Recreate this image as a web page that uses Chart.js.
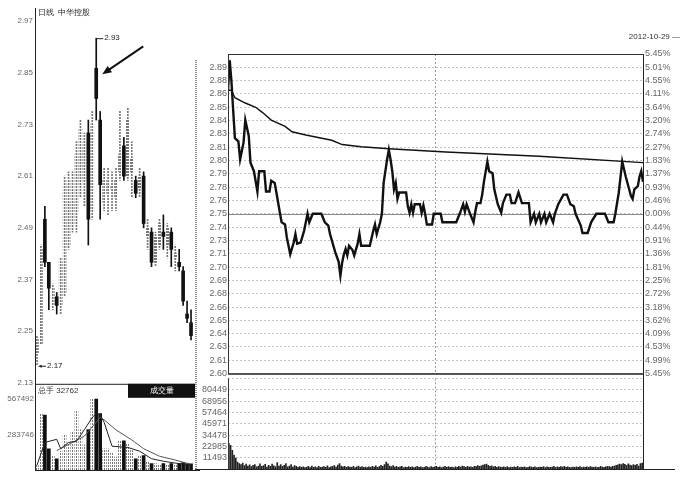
<!DOCTYPE html>
<html>
<head>
<meta charset="utf-8">
<script src="https://cdn.jsdelivr.net/npm/chart.js@4.4.0/dist/chart.umd.min.js"></script>
<style>
  html, body { margin: 0; padding: 0; background: #fff; }
  #wrap { position: relative; width: 682px; height: 480px; overflow: hidden; background: #fff; }
  #wrap canvas { position: absolute; }
</style>
</head>
<body>
<div id="wrap">
  <canvas id="dayPrice" width="200" height="392" style="left:0;top:0"></canvas>
  <canvas id="dayVol" width="200" height="100" style="left:0;top:378px"></canvas>
  <canvas id="minPrice" width="487" height="356" style="left:195px;top:25px"></canvas>
  <canvas id="minVol" width="487" height="108" style="left:195px;top:372px"></canvas>
</div>
<script>
/**
 * Daily K-line (left) + intraday line for 2012-10-29 (right)
 */

// ---- daily candles (left panel) ----
const dayOpen  = [2.20, 2.22, 2.51, 2.41, 2.31, 2.33, 2.31, 2.34, 2.45, 2.50, 2.53, 2.59, 2.60, 2.71, 2.53, 2.86, 2.74, 2.55, 2.57, 2.58,
                  2.56, 2.62, 2.68, 2.61, 2.62, 2.60, 2.58, 2.61, 2.47, 2.48, 2.41, 2.45, 2.48, 2.45, 2.48, 2.42, 2.41, 2.39, 2.29, 2.27];
const dayHigh  = [2.24, 2.45, 2.54, 2.41, 2.36, 2.34, 2.42, 2.61, 2.62, 2.62, 2.69, 2.74, 2.71, 2.74, 2.76, 2.93, 2.76, 2.63, 2.63, 2.62,
                  2.63, 2.76, 2.70, 2.77, 2.69, 2.61, 2.63, 2.62, 2.51, 2.49, 2.48, 2.51, 2.52, 2.50, 2.49, 2.45, 2.44, 2.40, 2.32, 2.30];
const dayLow   = [2.17, 2.22, 2.40, 2.30, 2.30, 2.29, 2.29, 2.33, 2.44, 2.48, 2.48, 2.56, 2.54, 2.45, 2.51, 2.74, 2.51, 2.53, 2.52, 2.53,
                  2.53, 2.60, 2.60, 2.60, 2.56, 2.56, 2.56, 2.49, 2.44, 2.40, 2.40, 2.44, 2.44, 2.42, 2.40, 2.39, 2.39, 2.31, 2.27, 2.23];
const dayClose = [2.23, 2.44, 2.41, 2.35, 2.35, 2.31, 2.41, 2.59, 2.60, 2.55, 2.66, 2.72, 2.68, 2.51, 2.73, 2.79, 2.59, 2.60, 2.60, 2.585,
                  2.60, 2.66, 2.61, 2.74, 2.65, 2.57, 2.61, 2.50, 2.49, 2.41, 2.47, 2.50, 2.47, 2.49, 2.44, 2.43, 2.40, 2.32, 2.28, 2.24];
const dayVolume = [38000, 451000, 438000, 168000, 116000, 90000, 150000, 284000, 219000, 309000,
                   477000, 322000, 200000, 322000, 567000, 567000, 451000, 168000, 168000, 142000,
                   103000, 232000, 232000, 206000, 155000, 90000, 116000, 116000, 65000, 52000,
                   52000, 38000, 52000, 45000, 52000, 45000, 52000, 60000, 52000, 50000];
const dayVolMa5 = [38000, null, 220000, null, null, 245000, 170000, null, 220000, null,
                   230000, null, 322000, null, 420000, 450000, 440000, 380000, null, 190000,
                   null, 185000, null, 180000, null, null, 150000, null, null, 90000,
                   null, null, 70000, null, null, 55000, null, null, null, 40000];
const dayVolMa10 = [null, null, null, null, null, 155000, null, null, null, 220000,
                    null, null, 270000, null, null, null, 420000, 400000, null, null,
                    320000, null, null, null, 240000, null, null, 170000, null, null,
                    null, 110000, null, null, null, 80000, null, null, null, 45000];
const dayPriceTicks = [2.13, 2.25, 2.37, 2.49, 2.61, 2.73, 2.85, 2.97];
const dayVolTicks = [283746, 567492];

// ---- intraday (right panel), minutes 0..240 ----
const tickPrices = [2.6, 2.6125, 2.625, 2.6375, 2.65, 2.6625, 2.675, 2.6875, 2.7, 2.7125, 2.725, 2.7375, 2.75,
                    2.7625, 2.775, 2.7875, 2.8, 2.8125, 2.825, 2.8375, 2.85, 2.8625, 2.875, 2.8875, 2.9];
const tickPriceLabels = ['2.60', '2.61', '2.63', '2.64', '2.65', '2.66', '2.68', '2.69', '2.70', '2.71', '2.73', '2.74', '2.75',
                         '2.76', '2.78', '2.79', '2.80', '2.81', '2.83', '2.84', '2.85', '2.86', '2.88', '2.89', ''];
const tickPctLabels = ['5.45%', '4.99%', '4.53%', '4.09%', '3.62%', '3.18%', '2.72%', '2.25%', '1.81%', '1.36%', '0.91%', '0.44%', '0.00%',
                       '0.46%', '0.93%', '1.37%', '1.83%', '2.27%', '2.74%', '3.20%', '3.64%', '4.11%', '4.55%', '5.01%', '5.45%'];

const minuteTimes = [0, 1, 2, 3, 4, 6, 7, 9, 10, 12, 13, 15, 17, 18, 21, 22, 24, 25, 27, 28,
                     30, 31, 33, 34, 36, 38, 39, 40, 42, 44, 45, 46, 47, 49, 51, 54, 56, 58, 59, 62,
                     64, 65, 66, 67, 68, 69, 70, 72, 73, 75, 76, 77, 82, 84, 85, 86, 88, 89, 90, 92,
                     93, 94, 95, 96, 97, 98, 99, 103, 104, 105, 106, 107, 108, 111, 112, 113, 114, 115, 118, 119,
                     123, 124, 126, 132, 134, 136, 137, 138, 140, 142, 143, 144, 146, 147, 148, 150, 151, 153, 154, 156,
                     158, 159, 161, 163, 164, 166, 168, 170, 174, 175, 177, 178, 180, 181, 183, 184, 186, 188, 189, 191,
                     194, 196, 198, 200, 201, 204, 205, 208, 210, 213, 218, 220, 223, 224, 226, 228, 230, 232, 233, 234,
                     235, 237, 238, 239, 240];
const minutePrices = [2.866, 2.894, 2.874, 2.847, 2.821, 2.818, 2.801, 2.817, 2.838, 2.823, 2.798, 2.790, 2.771, 2.790, 2.790, 2.771, 2.771, 2.781, 2.779, 2.770,
                      2.751, 2.742, 2.740, 2.728, 2.712, 2.723, 2.731, 2.722, 2.723, 2.734, 2.742, 2.750, 2.742, 2.750, 2.750, 2.750, 2.742, 2.739, 2.731, 2.714,
                      2.705, 2.692, 2.704, 2.712, 2.717, 2.711, 2.720, 2.716, 2.711, 2.722, 2.731, 2.720, 2.720, 2.734, 2.740, 2.731, 2.742, 2.750, 2.779, 2.801,
                      2.810, 2.801, 2.790, 2.773, 2.779, 2.764, 2.770, 2.770, 2.757, 2.751, 2.759, 2.751, 2.759, 2.759, 2.751, 2.758, 2.750, 2.740, 2.740, 2.750,
                      2.750, 2.742, 2.742, 2.742, 2.750, 2.759, 2.752, 2.759, 2.750, 2.742, 2.752, 2.760, 2.760, 2.768, 2.780, 2.799, 2.790, 2.788, 2.773, 2.759,
                      2.751, 2.760, 2.768, 2.768, 2.760, 2.760, 2.770, 2.760, 2.760, 2.742, 2.750, 2.742, 2.750, 2.742, 2.750, 2.742, 2.750, 2.742, 2.750, 2.759,
                      2.768, 2.768, 2.759, 2.757, 2.750, 2.739, 2.732, 2.732, 2.742, 2.750, 2.750, 2.742, 2.742, 2.750, 2.770, 2.799, 2.785, 2.773, 2.767, 2.764,
                      2.773, 2.776, 2.785, 2.790, 2.780];
const avgTimes  = [0, 2, 4, 10, 16, 20, 25, 33, 37, 45, 60, 66, 77, 93, 126, 180, 240];
const avgPrices = [2.866, 2.866, 2.859, 2.854, 2.850, 2.845, 2.838, 2.832, 2.827, 2.824, 2.819, 2.815, 2.813, 2.811, 2.808, 2.804, 2.798];

const minuteVolume = [
  26000, 24000, 19000, 14000, 11000, 7000, 5500, 4500, 6000, 3500,
  5000, 3000, 4200, 2500, 3800, 4600, 2200, 3000, 5200, 2600,
  3400, 4800, 2000, 3600, 2800, 5000, 3200, 2400, 6500, 3000,
  4400, 2600, 3800, 5400, 2200, 3000, 4600, 2000, 3400, 2800,
  1800, 2400, 1600, 2200, 1400, 2000, 2600, 1500, 3000, 1800,
  2200, 1400, 2800, 1600, 2000, 2400, 1800, 3200, 1500, 2200,
  2600, 3400, 2000, 4000, 5500, 3000, 2200, 2800, 1800, 2400,
  2000, 1600, 2600, 1400, 2200, 3000, 1800, 2400, 1600, 2000,
  1400, 2200, 1800, 2600, 2000, 3200, 1600, 2400, 3600, 2800,
  4600, 7000, 5200, 3000, 2400, 3400, 2000, 2800, 1600, 2200,
  2600, 1400, 2000, 1800, 2400, 1600, 2200, 1400, 2000, 2600,
  1600, 2200, 1400, 1800, 2600, 2000, 1400, 2400, 1800, 2200,
  2800, 1600, 2200, 1400, 2000, 2600, 1800, 2400, 1600, 2000,
  1400, 2200, 1800, 2600, 2000, 3000, 2400, 1800, 2600, 2000,
  2200, 1600, 2800, 2400, 3400, 2600, 3200, 4000, 4600, 5000,
  3600, 2800, 3200, 2200, 2600, 1800, 2400, 2000, 1600, 2200,
  1800, 2400, 1400, 2000, 1600, 2200, 1800, 2600, 1400, 2000,
  1600, 2200, 1400, 1800, 2400, 2000, 1600, 2200, 1400, 1800,
  2000, 1600, 2400, 1400, 2200, 1800, 1600, 2000, 2600, 1400,
  2200, 1800, 2400, 2000, 2800, 1600, 2200, 1800, 1400, 2000,
  1600, 2200, 1800, 2400, 1400, 2000, 1600, 2200, 1800, 2400,
  2000, 1600, 2200, 1400, 1800, 2600, 2000, 1600, 2200, 2800,
  2400, 2000, 2600, 3000, 3600, 4200, 5000, 4400, 5600, 4800,
  3800, 5200, 4000, 3400, 4600, 3600, 4800, 3000, 5400, 6000
];
const volTicks = [11493, 22985, 34478, 45971, 57464, 68956, 80449, 91941];

const tradeDate = '2012-10-29';
const stockTitle = '日线  中华控股';
const lastVolText = '总手 32762';

// ---------------------------------------------------------------------------

Chart.defaults.font.family = '"Liberation Sans", Arial, sans-serif';
Chart.defaults.font.size = 8;
Chart.defaults.color = '#555';
Chart.defaults.animation = false;
Chart.defaults.plugins.legend.display = false;
Chart.defaults.plugins.tooltip.enabled = false;

const LABEL_FONT = '8px "Liberation Sans", Arial, sans-serif';
const RIGHT_TICK_FONT = { size: 9 };

// dotted gray texture for rising candles
function makePattern(w, h, dots) {
  const pc = document.createElement('canvas');
  pc.width = w;
  pc.height = h;
  const pctx = pc.getContext('2d');
  pctx.fillStyle = '#777';
  dots.forEach(([x, y]) => pctx.fillRect(x, y, 1, 1));
  return pctx.createPattern(pc, 'repeat');
}
const bodyPattern = makePattern(2, 3, [[0, 0], [0, 1]]);
const wickPattern = makePattern(1, 3, [[0, 0], [0, 1]]);

function line(ctx, x1, y1, x2, y2, color, width, dash) {
  ctx.save();
  ctx.strokeStyle = color;
  ctx.lineWidth = width || 1;
  ctx.setLineDash(dash || []);
  ctx.beginPath();
  ctx.moveTo(x1, y1);
  ctx.lineTo(x2, y2);
  ctx.stroke();
  ctx.restore();
}

function arrowHead(ctx, x1, y1, x2, y2, size, color) {
  const ang = Math.atan2(y2 - y1, x2 - x1);
  ctx.save();
  ctx.fillStyle = color;
  ctx.beginPath();
  ctx.moveTo(x2, y2);
  ctx.lineTo(x2 - size * Math.cos(ang - 0.4), y2 - size * Math.sin(ang - 0.4));
  ctx.lineTo(x2 - size * Math.cos(ang + 0.4), y2 - size * Math.sin(ang + 0.4));
  ctx.closePath();
  ctx.fill();
  ctx.restore();
}

function text(ctx, str, x, y, color, align) {
  ctx.save();
  ctx.font = LABEL_FONT;
  ctx.fillStyle = color || '#222';
  ctx.textAlign = align || 'left';
  ctx.textBaseline = 'middle';
  ctx.fillText(str, x, y);
  ctx.restore();
}

const isUp = dayClose.map((c, i) => c >= dayOpen[i]);
const dayLabels = dayOpen.map((_, i) => String(i + 1));

/**
 * Left: daily candles
 */
const dayPricePlugin = {
  id: 'dayPriceFrame',
  afterDraw(chart) {
    const { ctx, chartArea: a, scales: { x, y } } = chart;
    line(ctx, a.left + 0.5, 8, a.left + 0.5, chart.height, '#222', 1);
    line(ctx, a.right + 3, 60, a.right + 3, chart.height, '#888', 2, [1, 1]);
    text(ctx, stockTitle, a.left + 3, 13, '#222');

    // highest high
    const hiIdx = dayHigh.indexOf(Math.max(...dayHigh));
    const hx = x.getPixelForValue(hiIdx);
    const hy = y.getPixelForValue(dayHigh[hiIdx]);
    line(ctx, hx, hy + 0.5, hx + 7, hy + 0.5, '#222', 1);
    text(ctx, dayHigh[hiIdx].toFixed(2), hx + 8, hy, '#222');

    // lowest low
    const loIdx = dayLow.indexOf(Math.min(...dayLow));
    const lx = x.getPixelForValue(loIdx);
    const ly = y.getPixelForValue(dayLow[loIdx]);
    line(ctx, lx + 9, ly + 0.5, lx + 3, ly + 0.5, '#222', 1);
    arrowHead(ctx, lx + 9, ly + 0.5, lx + 1, ly + 0.5, 4, '#222');
    text(ctx, dayLow[loIdx].toFixed(2), lx + 10, ly, '#222');

    // pointer arrow at the high candle body
    const by = y.getPixelForValue(dayOpen[hiIdx]);
    const tipX = hx + 6, tipY = by + 6;
    line(ctx, tipX + 41, tipY - 28, tipX + 5, tipY - 3.5, '#111', 2);
    arrowHead(ctx, tipX + 41, tipY - 28, tipX, tipY, 10, '#111');
  },
};

new Chart(document.getElementById('dayPrice'), {
  type: 'bar',
  data: {
    labels: dayLabels,
    datasets: [
      {
        label: 'body',
        data: dayOpen.map((o, i) => [Math.min(o, dayClose[i]), Math.max(o, dayClose[i])]),
        backgroundColor: isUp.map((u) => (u ? bodyPattern : '#111')),
        barThickness: 3,
        minBarLength: 1,
        grouped: false,
      },
      {
        label: 'wick',
        data: dayLow.map((l, i) => [l, dayHigh[i]]),
        backgroundColor: isUp.map((u) => (u ? wickPattern : '#111')),
        barThickness: 1,
        grouped: false,
      },
    ],
  },
  options: {
    responsive: false,
    layout: { padding: { top: 8, right: 7, bottom: 9, left: 0 } },
    scales: {
      x: { display: false, offset: true },
      y: {
        min: 2.13,
        max: 3.0,
        afterFit: (s) => { s.width = 35; },
        afterBuildTicks: (s) => { s.ticks = dayPriceTicks.map((v) => ({ value: v })); },
        ticks: { autoSkip: false, padding: 2, color: '#666', callback: (v) => v.toFixed(2) },
        grid: { display: false, drawTicks: false },
        border: { display: false },
      },
    },
  },
  plugins: [dayPricePlugin],
});

const dayVolPlugin = {
  id: 'dayVolFrame',
  afterDraw(chart) {
    const { ctx, chartArea: a } = chart;
    line(ctx, a.left + 0.5, 0, a.left + 0.5, a.bottom, '#222', 1);
    line(ctx, a.left, a.top + 0.5, a.right + 3, a.top + 0.5, '#222', 1);
    line(ctx, a.left, a.bottom + 0.5, chart.width, a.bottom + 0.5, '#222', 1);
    line(ctx, a.right + 3, 0, a.right + 3, a.bottom, '#888', 2, [1, 1]);
    text(ctx, lastVolText, a.left + 3, a.top + 7, '#333');
    ctx.save();
    ctx.fillStyle = '#111';
    ctx.fillRect(128, a.top, a.right + 2 - 128, 14);
    ctx.restore();
    text(ctx, '成交量', (128 + a.right + 2) / 2, a.top + 7, '#fff', 'center');
  },
};

new Chart(document.getElementById('dayVol'), {
  type: 'bar',
  data: {
    labels: dayLabels,
    datasets: [
      {
        type: 'line',
        data: dayVolMa5,
        borderColor: '#222',
        borderWidth: 1,
        pointRadius: 0,
        spanGaps: true,
      },
      {
        type: 'line',
        data: dayVolMa10,
        borderColor: '#555',
        borderWidth: 1,
        pointRadius: 0,
        spanGaps: true,
      },
      {
        data: dayVolume,
        backgroundColor: isUp.map((u) => (u ? bodyPattern : '#111')),
        barThickness: 3,
      },
    ],
  },
  options: {
    responsive: false,
    layout: { padding: { top: 5, right: 7, bottom: 8, left: 0 } },
    scales: {
      x: { display: false, offset: true },
      y: {
        min: 0,
        max: 688000,
        afterFit: (s) => { s.width = 35; },
        afterBuildTicks: (s) => { s.ticks = dayVolTicks.map((v) => ({ value: v })); },
        ticks: { autoSkip: false, padding: 1, color: '#666', callback: (v) => String(v) },
        grid: { display: false, drawTicks: false },
        border: { display: false },
      },
    },
  },
  plugins: [dayVolPlugin],
});

/**
 * Right: intraday price and volume
 */
function labelFor(list, v) {
  const i = tickPrices.findIndex((t) => Math.abs(t - v) < 1e-6);
  return i < 0 ? '' : list[i];
}

const midGrid = {
  display: true,
  drawTicks: false,
  offset: false,
  color: (c) => (c.tick && c.tick.value === 120 ? '#999' : 'rgba(0,0,0,0)'),
};

const minPricePlugin = {
  id: 'minPriceFrame',
  beforeDatasetsDraw(chart) {
    const { ctx, chartArea: a, scales: { y } } = chart;
    const by = Math.round(y.getPixelForValue(2.75)) + 0.5;
    line(ctx, a.left, by, a.right, by, '#888', 1);
  },
  afterDraw(chart) {
    const { ctx, chartArea: a } = chart;
    line(ctx, a.left, a.top + 0.5, a.right, a.top + 0.5, '#333', 1);
    line(ctx, a.left + 0.5, a.top, a.left + 0.5, a.bottom, '#333', 1);
    line(ctx, a.right + 0.5, a.top, a.right + 0.5, chart.height, '#222', 1);
    line(ctx, a.left, a.bottom + 0.5, a.right, a.bottom + 0.5, '#222', 1.5);
    text(ctx, tradeDate + ' —', chart.width - 2, 12, '#333', 'right');
  },
};

new Chart(document.getElementById('minPrice'), {
  type: 'line',
  data: {
    datasets: [
      {
        label: 'price',
        data: minuteTimes.map((t, i) => ({ x: t, y: minutePrices[i] })),
        borderColor: '#111',
        borderWidth: 2.4,
        pointRadius: 0,
        tension: 0,
      },
      {
        label: 'average',
        data: avgTimes.map((t, i) => ({ x: t, y: avgPrices[i] })),
        borderColor: '#111',
        borderWidth: 1.4,
        pointRadius: 0,
        tension: 0,
      },
    ],
  },
  options: {
    responsive: false,
    layout: { padding: { top: 29, right: 0, bottom: 5, left: 0 } },
    scales: {
      x: {
        type: 'linear',
        min: 0,
        max: 240,
        offset: false,
        afterBuildTicks: (s) => { s.ticks = [{ value: 0 }, { value: 120 }, { value: 240 }]; },
        afterFit: (s) => { s.height = 0; },
        ticks: { display: false },
        grid: midGrid,
        border: { display: false, dash: [2, 2] },
      },
      y: {
        min: 2.6,
        max: 2.9,
        afterFit: (s) => { s.width = 33; },
        afterBuildTicks: (s) => { s.ticks = tickPrices.map((v) => ({ value: v })); },
        ticks: { autoSkip: false, padding: 1, color: '#666', font: RIGHT_TICK_FONT, callback: (v) => labelFor(tickPriceLabels, v) },
        grid: { color: '#c4c4c4', drawTicks: false },
        border: { display: false, dash: [2, 2] },
      },
      y2: {
        position: 'right',
        min: 2.6,
        max: 2.9,
        afterFit: (s) => { s.width = 39; },
        afterBuildTicks: (s) => { s.ticks = tickPrices.map((v) => ({ value: v })); },
        ticks: { autoSkip: false, padding: 2, color: '#666', font: RIGHT_TICK_FONT, callback: (v) => labelFor(tickPctLabels, v) },
        grid: { display: false, drawTicks: false },
        border: { display: false },
      },
    },
  },
  plugins: [minPricePlugin],
});

const minVolPlugin = {
  id: 'minVolFrame',
  afterDraw(chart) {
    const { ctx, chartArea: a } = chart;
    line(ctx, a.left + 0.5, a.top, a.left + 0.5, a.bottom, '#333', 1);
    line(ctx, a.right + 0.5, 0, a.right + 0.5, a.bottom, '#222', 1);
    line(ctx, 0, a.bottom + 0.5, chart.width - 7, a.bottom + 0.5, '#222', 1);
  },
};

new Chart(document.getElementById('minVol'), {
  type: 'bar',
  data: {
    datasets: [
      {
        data: minuteVolume.map((v, i) => ({ x: i + 0.5, y: v })),
        backgroundColor: '#222',
        barThickness: 1,
      },
    ],
  },
  options: {
    responsive: false,
    layout: { padding: { top: 4, right: 39, bottom: 11, left: 0 } },
    scales: {
      x: {
        type: 'linear',
        min: 0,
        max: 240,
        offset: false,
        afterBuildTicks: (s) => { s.ticks = [{ value: 0 }, { value: 120 }, { value: 240 }]; },
        afterFit: (s) => { s.height = 0; },
        ticks: { display: false },
        grid: midGrid,
        border: { display: false, dash: [2, 2] },
      },
      y: {
        min: 0,
        max: 91941,
        afterFit: (s) => { s.width = 33; },
        afterBuildTicks: (s) => { s.ticks = volTicks.map((v) => ({ value: v })); },
        ticks: {
          autoSkip: false,
          padding: 1,
          color: '#666',
          font: RIGHT_TICK_FONT,
          callback: (v) => (v === volTicks[volTicks.length - 1] ? '' : String(v)),
        },
        grid: { color: '#c4c4c4', drawTicks: false },
        border: { display: false, dash: [2, 2] },
      },
    },
  },
  plugins: [minVolPlugin],
});
</script>
</body>
</html>
